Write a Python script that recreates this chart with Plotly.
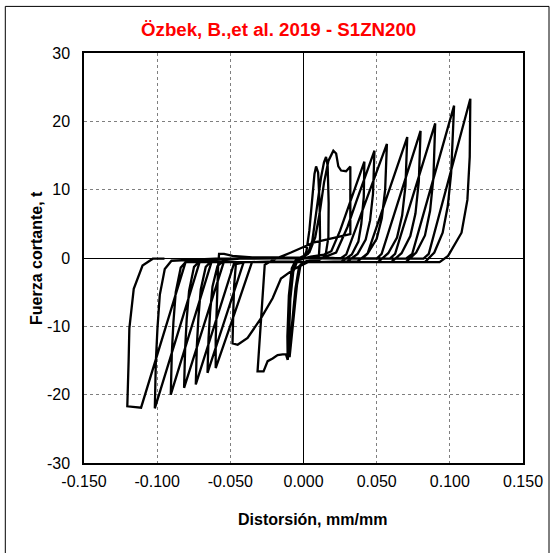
import plotly.graph_objects as go

# ---- data: drift (mm/mm) and shear force (t), cycle by cycle ----
c1_d = [0.0000, 0.0020, 0.0040, 0.0060, 0.0075, 0.0086, 0.0100, 0.0110, 0.0113, 0.0105, 0.0080, 0.0020,
        -0.0020, -0.0045, -0.0070, -0.0095, -0.0098, -0.0090, -0.0070, -0.0040, 0.0000]
c1_f = [0.0, 1.0, 4.0, 9.0, 12.3, 13.4, 12.5, 8.0, 3.0, 0.3, -0.3, -0.5,
        -1.0, -4.0, -9.5, -14.5, -11.0, -6.0, -2.0, -0.3, 0.2]

c2_d = [0.0030, 0.0060, 0.0090, 0.0120, 0.0140, 0.0154, 0.0165, 0.0172, 0.0170, 0.0150, 0.0100, 0.0000,
        -0.0030, -0.0055, -0.0080, -0.0108, -0.0110, -0.0100, -0.0080, -0.0050, 0.0000]
c2_f = [0.6, 2.5, 7.0, 11.8, 14.0, 14.8, 13.5, 8.0, 3.0, 0.3, -0.4, -0.6,
        -1.2, -4.5, -10.0, -14.9, -11.5, -5.5, -1.5, -0.2, 0.3]

c3_d = [0.0040, 0.0080, 0.0110, 0.0140, 0.0170, 0.0204, 0.0223, 0.0238, 0.0257, 0.0291, 0.0320, 0.0320,
        0.0234, 0.0074, -0.0086, -0.0200, -0.0265, -0.0290, -0.0314, -0.0273, -0.0245, -0.0211,
        -0.0177, -0.0142, -0.0120, -0.0108, -0.0105, -0.0095, -0.0075, -0.0040, 0.0050, 0.0140]
c3_f = [0.8, 3.0, 6.5, 11.0, 14.2, 15.7, 15.3, 13.4, 12.8, 12.7, 13.4, 3.5,
        3.1, 2.3, 0.8, -0.2, -1.0, -8.4, -16.6, -16.6, -15.1, -14.7,
        -14.2, -14.1, -14.1, -14.9, -10.0, -5.0, -1.5, -0.3, 0.2, 0.5]

c4_d = [0.0190, 0.0250, 0.0300, 0.0360, 0.0416, 0.0412, 0.0395, 0.0375, 0.0330, 0.0260, 0.0100, -0.0100,
        -0.0300, -0.0400, -0.0462, -0.0474, -0.0480, -0.0485, -0.0450, -0.0382, -0.0290, -0.0211,
        -0.0154, -0.0063, 0.0029, 0.0150]
c4_f = [1.0, 4.0, 7.0, 10.8, 14.1, 9.0, 5.0, 2.4, 0.5, -0.5, -0.6, -0.6,
        -0.6, -0.6, -0.9, -4.0, -8.0, -12.5, -12.7, -11.7, -8.8, -5.9,
        -3.0, -1.6, -0.6, 0.2]

c5_d = [0.0223, 0.0300, 0.0360, 0.0420, 0.0485, 0.0475, 0.0455, 0.0425, 0.0370, 0.0300, 0.0100, -0.0200,
        -0.0330, -0.0352, -0.0450, -0.0530, -0.0600, -0.0600, -0.0595, -0.0590, -0.0583, -0.0577,
        -0.0543, -0.0485, -0.0350, -0.0150, 0.0050, 0.0200]
c5_f = [0.8, 4.5, 8.2, 11.8, 15.7, 9.4, 5.5, 2.7, 0.6, -0.5, -0.6, -0.5,
        -0.5, -0.6, -6.8, -11.8, -16.1, -12.0, -8.0, -4.0, -1.0, 0.6,
        0.6, 0.3, 0.1, 0.1, 0.1, 0.0]

c6_d = [0.0250, 0.0292, 0.0570, 0.0558, 0.0535, 0.0500, 0.0440, 0.0370, 0.0150, -0.0200, -0.0380,
        -0.0409, -0.0656, -0.0649, -0.0638, -0.0622, -0.0588, -0.0542, -0.0400, 0.0000, 0.0320]
c6_f = [-0.1, 0.5, 16.7, 10.0, 5.8, 2.8, 0.7, -0.5, -0.6, -0.6, -0.5,
        -0.6, -16.8, -11.8, -7.9, -4.2, -1.2, -0.3, 0.0, 0.0, -0.1]

c7_d = [0.0400, 0.0437, 0.0709, 0.0697, 0.0674, 0.0639, 0.0579, 0.0509, 0.0200, -0.0200, -0.0440,
        -0.0472, -0.0736, -0.0729, -0.0718, -0.0702, -0.0668, -0.0622, -0.0450, 0.0000, 0.0450]
c7_f = [-0.1, 0.6, 17.7, 10.6, 6.2, 3.0, 0.7, -0.6, -0.6, -0.6, -0.5,
        -0.6, -18.5, -13.0, -8.7, -4.6, -1.3, -0.3, -0.1, 0.0, -0.1]

c8_d = [0.0500, 0.0534, 0.0800, 0.0788, 0.0765, 0.0730, 0.0670, 0.0600, 0.0200, -0.0200, -0.0510,
        -0.0545, -0.0816, -0.0809, -0.0798, -0.0782, -0.0748, -0.0702, -0.0500, 0.0000, 0.0560]
c8_f = [-0.1, 0.6, 18.6, 11.2, 6.5, 3.2, 0.7, -0.6, -0.6, -0.6, -0.5,
        -0.6, -19.0, -13.3, -8.9, -4.8, -1.3, -0.3, -0.1, 0.0, -0.1]

c9_d = [0.0590, 0.0626, 0.0900, 0.0888, 0.0865, 0.0830, 0.0770, 0.0700, 0.0200, -0.0200, -0.0590,
        -0.0629, -0.0907, -0.0900, -0.0889, -0.0873, -0.0839, -0.0793, -0.0550, 0.0000, 0.0700]
c9_f = [-0.1, 0.6, 19.7, 11.8, 6.9, 3.3, 0.8, -0.6, -0.6, -0.6, -0.5,
        -0.6, -20.0, -14.0, -9.4, -5.0, -1.4, -0.3, -0.1, 0.0, -0.1]

c10_d = [0.0743, 0.1029, 0.1009, 0.0986, 0.0951, 0.0894, 0.0830, 0.0200, -0.0200, -0.0680,
         -0.0710, -0.1016, -0.1009, -0.0998, -0.0982, -0.0948, -0.0902, -0.0600, 0.0000, 0.0820]
c10_f = [0.6, 22.3, 12.4, 7.6, 3.7, 0.8, -0.6, -0.6, -0.6, -0.5,
         -0.6, -22.0, -15.1, -10.3, -5.4, -1.6, -0.4, -0.1, 0.0, -0.1]

c11_d = [0.0856, 0.1140, 0.1136, 0.1120, 0.1080, 0.0988, 0.0930, 0.0200, -0.0200, -0.0780,
         -0.0806, -0.1110, -0.1204, -0.1195, -0.1190, -0.1160, -0.1100, -0.1030, -0.0950]
c11_f = [0.6, 23.3, 14.8, 8.5, 3.7, 0.3, -0.6, -0.6, -0.6, -0.5,
         -0.6, -21.9, -21.7, -15.0, -10.3, -4.5, -1.1, -0.1, -0.1]

x_tickvals = [-0.15, -0.10, -0.05, 0.0, 0.05, 0.10, 0.15]
x_ticktext = ["-0.150", "-0.100", "-0.050", "0.000", "0.050", "0.100", "0.150"]
y_tickvals = [-30, -20, -10, 0, 10, 20, 30]
y_ticktext = ["-30", "-20", "-10", "0", "10", "20", "30"]

drift = c1_d + c2_d + c3_d + c4_d + c5_d + c6_d + c7_d + c8_d + c9_d + c10_d + c11_d
force = c1_f + c2_f + c3_f + c4_f + c5_f + c6_f + c7_f + c8_f + c9_f + c10_f + c11_f

FONT = "Liberation Sans, Arial, sans-serif"

# plot area in pixels
L, R, T, B = 84, 523, 53, 463
PW, PH = R - L, B - T


def px_x(p):
    return (p - L) / PW


def px_y(p):
    return (B - p) / PH


fig = go.Figure()
fig.add_trace(go.Scatter(x=drift, y=force, mode="lines",
                         line=dict(color="black", width=2.3),
                         showlegend=False, hoverinfo="skip"))

axis_common = dict(showgrid=True, gridcolor="#7f7f7f", griddash="dot", gridwidth=1,
                   zeroline=True, zerolinecolor="#000000", zerolinewidth=1,
                   showline=True, mirror=True, linecolor="black", linewidth=1.5,
                   ticks="", automargin=False,
                   tickfont=dict(family=FONT, size=16, color="black"))

fig.update_layout(
    width=554, height=553,
    margin=dict(l=L, r=554 - R, t=T, b=553 - B),
    paper_bgcolor="white", plot_bgcolor="white",
    xaxis=dict(range=[-0.15, 0.15], tickvals=x_tickvals, ticktext=x_ticktext,
               ticklabelstandoff=3, **axis_common),
    yaxis=dict(range=[-30, 30], tickvals=y_tickvals, ticktext=y_ticktext,
               ticklabelstandoff=9, **axis_common),
    annotations=[
        dict(text="<b>Özbek, B.,et al. 2019 - S1ZN200</b>", xref="paper", yref="paper",
             x=px_x(278), y=px_y(30), xanchor="center", yanchor="middle", showarrow=False,
             font=dict(family=FONT, size=18.7, color="#FF0000")),
        dict(text="<b>Distorsión, mm/mm</b>", xref="paper", yref="paper",
             x=px_x(312), y=px_y(519), xanchor="center", yanchor="middle", showarrow=False,
             font=dict(family=FONT, size=16, color="black")),
        dict(text="<b>Fuerza cortante, t</b>", xref="paper", yref="paper",
             x=px_x(36), y=px_y(258), xanchor="center", yanchor="middle", showarrow=False,
             textangle=-90, font=dict(family=FONT, size=16, color="black")),
    ],
    shapes=[dict(type="rect", xref="paper", yref="paper",
                 x0=px_x(5.3), x1=px_x(549), y0=px_y(600), y1=px_y(6.4),
                 line=dict(color="black", width=1), layer="below")],
)

fig.write_html("out.html", config={"displayModeBar": False},
               post_script="document.body.style.margin='0';document.body.style.padding='0';")
